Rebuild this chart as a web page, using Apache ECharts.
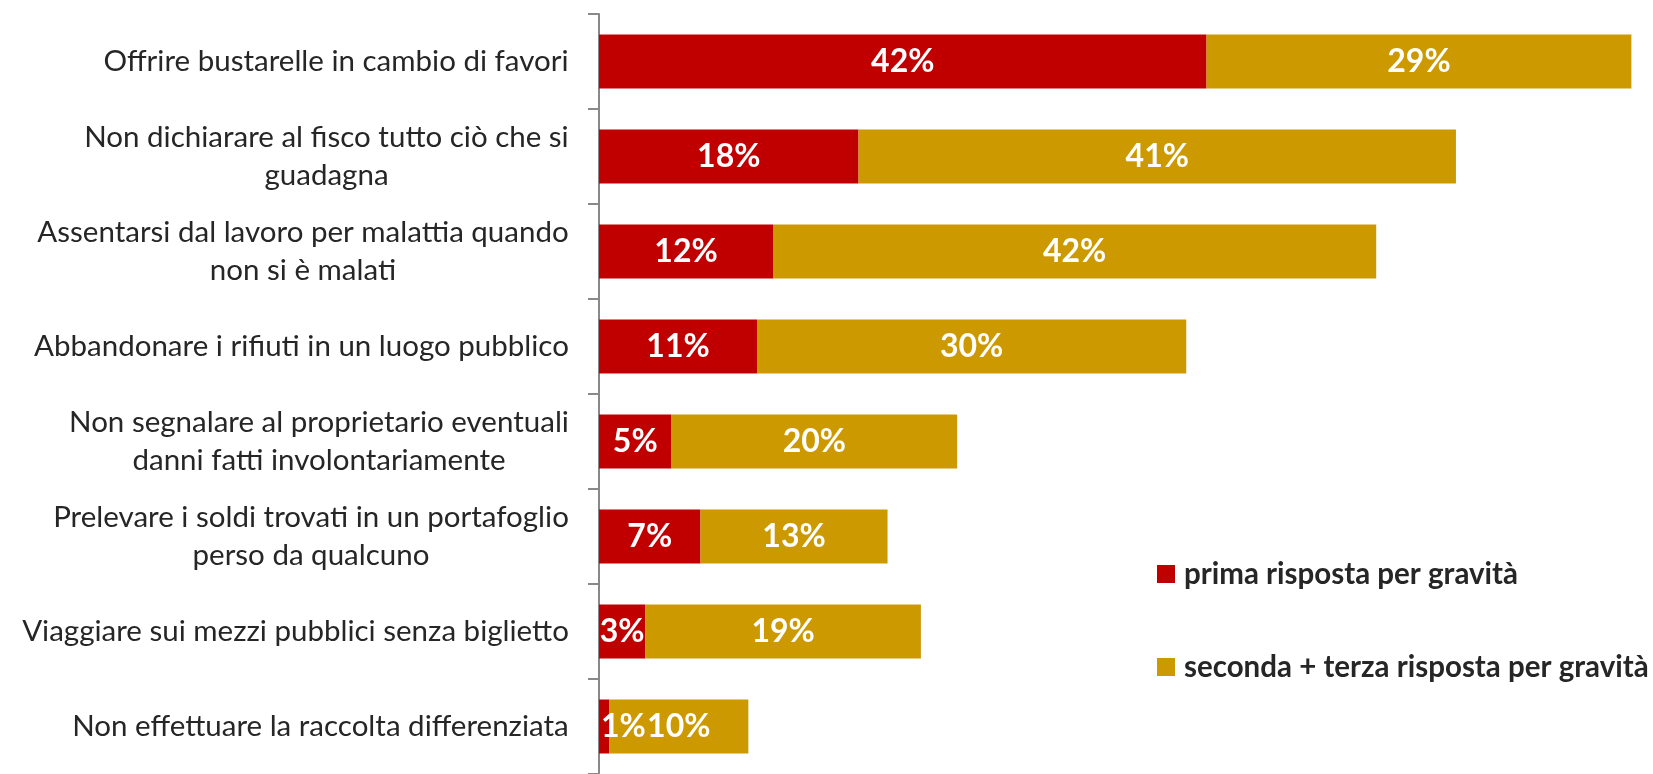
<!DOCTYPE html>
<html>
<head>
    <meta charset="utf-8">
    <title>Gravità dei comportamenti</title>
    <script src="https://cdn.jsdelivr.net/npm/echarts@6/dist/echarts.min.js"></script>
    <style>
        html, body {
            margin: 0;
            padding: 0;
            background: #fff;
        }

        #chart {
            width: 1653px;
            height: 774px;
        }
    </style>
</head>
<body>
<div id="chart"></div>
<script type="text/javascript">

    /*dati*/
    var categories = [
        'Offrire bustarelle in cambio di favori',
        'Non dichiarare al fisco tutto ciò che si\nguadagna',
        'Assentarsi dal lavoro per malattia quando\nnon si è malati',
        'Abbandonare i rifiuti in un luogo pubblico',
        'Non segnalare al proprietario eventuali\ndanni fatti involontariamente',
        'Prelevare i soldi trovati in un portafoglio\nperso da qualcuno',
        'Viaggiare sui mezzi pubblici senza biglietto',
        'Non effettuare la raccolta differenziata'
    ];
    var prima = [41.9, 17.9, 12.0, 10.9, 5.0, 7.0, 3.2, 0.7];
    var secondaTerza = [29.3, 41.2, 41.6, 29.6, 19.7, 12.9, 19.0, 9.6];
    var seriesNames = ['prima risposta per gravità', 'seconda + terza risposta per gravità'];

    var fontName = 'Lato';
    var labelSize = 29.5;

    // righe centrate dentro il blocco dell'etichetta (come in Excel)
    var ctx = document.createElement('canvas').getContext('2d');
    ctx.font = labelSize + 'px ' + fontName;
    var rich = {};
    categories.forEach(function (c, i) {
        var w = 0;
        c.split('\n').forEach(function (l) {
            w = Math.max(w, ctx.measureText(l).width);
        });
        rich['c' + i] = {
            width: Math.ceil(w) + 2,
            align: 'center',
            fontSize: labelSize,
            fontFamily: fontName,
            color: '#262626',
            lineHeight: 38
        };
    });

    var barLabel = {
        show: true,
        position: 'inside',
        color: '#fff',
        fontFamily: fontName,
        fontWeight: 'bold',
        fontSize: 32,
        formatter: function (p) {
            return Math.round(p.value) + '%';
        }
    };

    var legendText = {
        fontFamily: fontName,
        fontSize: 29.5,
        lineHeight: 36,
        fontWeight: 'bold',
        color: '#262626',
        padding: [0, 0, 0, 4]
    };

    var myChart = echarts.init(document.getElementById('chart'));
    myChart.setOption({
        animation: false,
        backgroundColor: '#fff',
        grid: {
            left: 599,
            top: 14,
            width: 1044,
            height: 763
        },
        legend: [{
            orient: 'vertical',
            left: 1152,
            top: 551,
            itemWidth: 18,
            itemHeight: 18,
            icon: 'rect',
            data: [seriesNames[0]],
            textStyle: legendText
        }, {
            orient: 'vertical',
            left: 1152,
            top: 644,
            itemWidth: 18,
            itemHeight: 18,
            icon: 'rect',
            data: [seriesNames[1]],
            textStyle: legendText
        }],
        xAxis: {
            type: 'value',
            min: 0,
            max: 72,
            show: false
        },
        yAxis: {
            type: 'category',
            inverse: true,
            data: categories,
            axisLine: {lineStyle: {color: '#898989', width: 2}},
            axisTick: {show: true, inside: false, length: 11, lineStyle: {color: '#898989', width: 2}},
            axisLabel: {
                margin: 29,
                formatter: function (value, index) {
                    return value.split('\n').map(function (l) {
                        return '{c' + index + '|' + l + '}';
                    }).join('\n');
                },
                rich: rich
            }
        },
        series: [{
            name: seriesNames[0],
            type: 'bar',
            stack: 'tot',
            barWidth: 54,
            itemStyle: {color: '#C00000'},
            label: barLabel,
            data: prima.map(function (v) {
                // etichetta troppo larga per il segmento: la si appoggia a sinistra
                return v < 2 ? {value: v, label: {position: 'insideLeft', distance: 2}} : v;
            })
        }, {
            name: seriesNames[1],
            type: 'bar',
            stack: 'tot',
            barWidth: 54,
            itemStyle: {color: '#CC9900'},
            label: barLabel,
            data: secondaTerza
        }]
    });

</script>
</body>
</html>
